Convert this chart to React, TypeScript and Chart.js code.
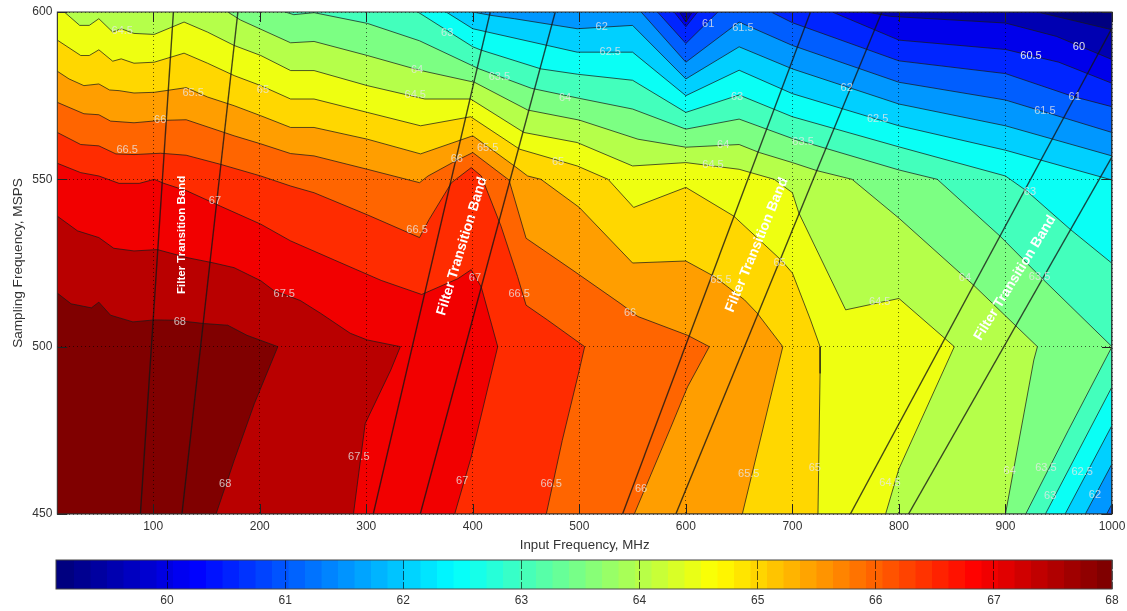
import React, { useEffect, useRef } from "react";
import { Chart, registerables } from "chart.js";

Chart.register(...registerables);

const FONT = "'Liberation Sans', Arial, sans-serif";

const xTicks = [100, 200, 300, 400, 500, 600, 700, 800, 900, 1000];
const yTicks = [450, 500, 550, 600];
const colorTicks = [60, 61, 62, 63, 64, 65, 66, 67, 68];
const zMin = 59.06;
const zMax = 68;
const colormapSize = 64;

const c68 = [[10,516],[23,512.8],[42,511.6],[49,513.3],[60,509.4],[81,507.4],[101,508],[120,507.9],[148,506.9],[170,506.4],[188,503.4],[217,500],[195,483],[176,466],[159,450]];
const c675 = [[10,539],[29,534.6],[49,532.6],[63,529.4],[82,528.6],[104,529],[132,526.6],[157,525],[176,523.6],[201,519.7],[213,516.8],[238,513.8],[257,510],[285,504],[301,502],[332,500],[323,493],[299,477],[288,450]];
const c67 = [[10,554.8],[32,552],[49,551],[68,548.8],[87,548.8],[101,550],[110,548.8],[132,546.5],[163,542],[201,536.6],[229,531.6],[270,525.9],[314,519.8],[352,515.6],[386,520.3],[398.5,523],[408,517.8],[423.4,500],[398.5,467],[383,450]];
const c665 = [[10,564],[32,560.4],[49,560],[65,557.6],[82,557.4],[107,557.8],[131,557.2],[163,554.5],[201,551],[229,548],[251,546],[301,539.4],[350,532.6],[359,538],[380,549],[398.5,553.5],[408,551],[426.5,536],[442,521],[450,512.4],[470,508],[505,500],[500,493],[484,472],[469,450]];
const c66 = [[10,573],[35,569.6],[49,569.3],[60,567.4],[82,566.9],[107,567.6],[131,567.8],[176,563],[201,560.6],[229,557.7],[251,557],[301,553],[350,549],[358,551],[381,555],[400,558],[434,549.8],[450,532.4],[494,522.8],[539,512.8],[555,509],[601.6,503.4],[622,500],[601.6,488],[586,476],[551.6,450]];
const c655 = [[10,582.3],[21,580],[35,578],[49,578.5],[59,576.7],[68,576.5],[82,575.8],[101,576],[131,577.4],[151,574.6],[176,572],[201,569],[229,565.5],[251,565.5],[301,562],[351,557.6],[400,563],[439,554],[451.5,551],[464,550],[500,541.6],[550,525],[600,525.6],[626.5,521],[655,514],[667,510],[691,500],[653,450]];
const c65 = [[10,591.6],[32,587],[40,587],[49,588.7],[62,585.3],[70,586],[82,584.7],[101,585],[129,587.7],[151,584.7],[176,581],[201,578],[229,574],[251,574],[301,570],[351,566],[398,568.7],[444,559],[498,554],[527,550],[551,541.6],[600,547.6],[645,539],[689,526],[700,522],[717,508],[726,500],[726,492],[724,450]];
const c645 = [[16.6,600],[31,596],[40,596],[49,598],[62,594],[70,595],[82,593.6],[101,593.3],[129,597],[151,594],[176,590],[201,587],[229,582.5],[251,582.5],[301,578],[355,574],[398,574],[448,564],[498,561],[550,554],[600,555],[650,553],[683,550],[700,546],[706,540],[750,511],[800,514.4],[843,502.5],[852,500],[800,463.5],[787.5,450]];
const c64 = [[170,600],[182,597.6],[229,590.8],[251,591.2],[301,587],[350,582.6],[401.6,579],[451.6,570.7],[500,567.7],[555,562],[600,559.6],[650,560.4],[669,558],[700,555],[723,552.6],[756,550],[800,538.4],[870,518.4],[930,500],[926.6,496],[900,450]];
const c635 = [[224,600],[232,599.2],[251,599.8],[301,596.6],[350,591.4],[406,583],[455,577.2],[500,574.2],[550,571],[600,565],[650,568],[700,562.2],[800,552.8],[836,550],[895,533],[935.6,520],[1000,500],[959,475],[919,450]];
const c63 = [[348.4,600],[400,589.6],[408,588.6],[464,583],[498.4,581.4],[550,579.6],[600,570],[650,575.2],[700,568.7],[800,559.7],[900,551],[920,546.5],[961,535],[1000,524.9],[1000,488],[937.5,450]];
const c625 = [[375,600],[400,595],[470,590],[498,588],[550,588],[600,575],[650,582.6],[700,575.6],[800,566],[900,558.7],[1000,549.8],[1000,476.5],[956,450]];
const c62 = [[400,600],[417,599],[439,598],[498,595],[550,596],[600,580],[650,589.6],[700,583],[800,572.5],[900,566],[1000,557],[1000,465],[975,450]];
const c615 = [[558,600],[600,585],[650,597],[700,590],[800,579],[900,573.7],[1000,564],[1000,453],[995,450]];
const c61 = [[573.4,600],[600,590.6],[630,600],[680,600],[700,596.8],[800,585.4],[900,581.6],[964,574.7],[1000,571.7],[1000,450]];
const c605 = [[589,600],[600,595.6],[611,600],[737.5,600],[800,591.6],[900,588.8],[950,585],[1000,578.7],[1000,450]];
const c60 = [[594,600],[600,597],[606,600],[770,600],[792,598.7],[900,596.7],[948,592.7],[1000,585.8],[1000,450]];
const c595 = [[10,600],[930,600],[1000,594.7],[1000,450]];

const levels = [68, 67.5, 67, 66.5, 66, 65.5, 65, 64.5, 64, 63.5, 63, 62.5, 62, 61.5, 61, 60.5, 60, 59.5];
const contours = [c68, c675, c67, c665, c66, c655, c65, c645, c64, c635, c63, c625, c62, c615, c61, c605, c60, c595];
const plotFrame = [[10,600],[1000,600],[1000,450],[10,450]];

const filterLines = [
  [[119,600],[88,450]],
  [[179.5,600],[127,450]],
  [[416.4,600],[306.6,450]],
  [[477.4,600],[350.7,450]],
  [[717,600],[540.6,450]],
  [[784,600],[590.6,450]],
  [[1000,595.2],[754.4,450]],
  [[1000,556.7],[809,450]],
];

const labelText = ["64.5","65.5","66","66.5","67","67.5","68","68","67.5","67","66.5","66","65.5","65","64.5","64","63.5","63","62.5","62","66.5","66","65.5","67","66.5","66","65.5","64","64.5","63","63.5","65","64","62","62.5","61","61.5","63","64","64.5","62","62.5","63.5","60","60.5","61","61.5","63","64","63.5","64.5","65","65"];
const labelX = [71,137.5,106.6,75.6,158,223,125,167.6,293,390,473.5,558,659,721,791.6,904,938,942,972,984,347.7,385,414,402,443.5,547.6,633,347.7,346,376,425,480,486.6,521,529,621,653.6,648,635,625.5,751,780,710,969,924,965,937,923,862,932,782,688,203];
const labelY = [594.3,575.8,567.7,558.8,543.5,515.7,507.4,459,467,460,459,457.5,462,463.7,459.3,463,463.7,455.4,462.5,455.7,534.9,556,559.4,520.5,515.7,510,520,582.7,575.2,593.7,580.6,555.2,574.3,595.5,588,596.4,595.2,574.6,560.3,554.3,577.3,568,561.2,589.5,586.9,574.6,570.4,546.2,520.5,520.8,513.3,525,576.7];

const bandTitle = "Filter Transition Band";
const bandX = [127.2, 390, 666.8, 909];
const bandY = [533.4, 530, 530.4, 520.5];
const bandAngle = [-90, -73, -67.5, -58.4];
const bandSize = [11.5, 14, 14, 14];

const clamp = (v: number) => Math.max(0, Math.min(1, v));
const jet = (t: number) => {
  const r = clamp(1.5 - Math.abs(4 * t - 3));
  const g = clamp(1.5 - Math.abs(4 * t - 2));
  const b = clamp(1.5 - Math.abs(4 * t - 1));
  return `rgb(${Math.round(r * 255)},${Math.round(g * 255)},${Math.round(b * 255)})`;
};
const colorOf = (z: number) => jet((z - zMin) / (zMax - zMin));

const toPoints = (arr: number[][]) => arr.map(([x, y]) => ({ x, y }));

const closeRegion = (pts: number[][]) => {
  const last = pts[pts.length - 1];
  const first = pts[0];
  const out = [...pts];
  if (!(last[0] === 10 && last[1] === 450)) out.push([10, 450]);
  if (first[0] !== 10) out.push([10, 600]);
  return out;
};

const frameAndLabels = {
  id: "frameAndLabels",
  afterDatasetsDraw(chart: any) {
    const { ctx, scales } = chart;
    ctx.save();
    ctx.beginPath();
    ctx.rect(chart.chartArea.left, chart.chartArea.top, chart.chartArea.width, chart.chartArea.height);
    ctx.clip();
    ctx.font = `11px ${FONT}`;
    ctx.textAlign = "center";
    ctx.textBaseline = "middle";
    labelText.forEach((t, i) => {
      ctx.fillStyle = labelY[i] > 580 && labelX[i] > 900 ? "rgba(235,235,235,0.95)" : "rgba(232,232,232,0.78)";
      ctx.fillText(t, scales.x.getPixelForValue(labelX[i]), scales.y.getPixelForValue(labelY[i]));
    });
    ctx.fillStyle = "#fff";
    bandX.forEach((x, i) => {
      ctx.save();
      ctx.translate(scales.x.getPixelForValue(x), scales.y.getPixelForValue(bandY[i]));
      ctx.rotate((bandAngle[i] * Math.PI) / 180);
      ctx.font = `bold ${bandSize[i]}px ${FONT}`;
      ctx.fillText(bandTitle, 0, 0);
      ctx.restore();
    });
    ctx.restore();
  },
  afterDraw(chart: any) {
    const { ctx, chartArea: a, scales } = chart;
    ctx.save();
    ctx.strokeStyle = "#222";
    ctx.lineWidth = 1;
    ctx.beginPath();
    xTicks.forEach((v) => {
      const p = Math.round(scales.x.getPixelForValue(v)) + 0.5;
      ctx.moveTo(p, a.bottom);
      ctx.lineTo(p, a.bottom - 10);
      ctx.moveTo(p, a.top);
      ctx.lineTo(p, a.top + 10);
    });
    yTicks.forEach((v) => {
      const p = Math.round(scales.y.getPixelForValue(v)) + 0.5;
      ctx.moveTo(a.left, p);
      ctx.lineTo(a.left + 10, p);
      ctx.moveTo(a.right, p);
      ctx.lineTo(a.right - 10, p);
    });
    ctx.stroke();
    ctx.strokeStyle = "#333";
    ctx.strokeRect(a.left, a.top, a.width, a.height);
    ctx.restore();
  },
};

const colorbarFrame = {
  id: "colorbarFrame",
  afterDraw(chart: any) {
    const { ctx, chartArea: a } = chart;
    ctx.save();
    ctx.strokeStyle = "#444";
    ctx.lineWidth = 1;
    ctx.strokeRect(a.left, a.top, a.width, a.height);
    ctx.restore();
  },
};

export default function App() {
  const mainRef = useRef<HTMLCanvasElement>(null);
  const barRef = useRef<HTMLCanvasElement>(null);

  useEffect(() => {
    const lineDatasets = filterLines.map((l) => ({
      data: toPoints(l),
      showLine: true,
      pointRadius: 0,
      borderColor: "rgba(20,20,20,0.78)",
      borderWidth: 1.4,
      fill: false,
    }));
    const regionDatasets = levels.map((lev, i) => ({
      data: toPoints(closeRegion(contours[i])),
      showLine: true,
      pointRadius: 0,
      borderColor: "rgba(25,25,25,0.72)",
      borderWidth: 1,
      backgroundColor: colorOf(lev),
      fill: "shape",
    }));
    const base = {
      data: toPoints(plotFrame),
      showLine: true,
      pointRadius: 0,
      borderWidth: 0,
      backgroundColor: colorOf(zMin),
      fill: "shape",
    };

    const main = new Chart(mainRef.current!, {
      type: "scatter",
      data: { datasets: [...lineDatasets, ...regionDatasets, base] as any },
      plugins: [frameAndLabels],
      options: {
        animation: false,
        responsive: false,
        layout: { padding: { left: 10, right: 15, top: 12, bottom: 58 } },
        plugins: { legend: { display: false }, tooltip: { enabled: false } },
        scales: {
          x: {
            type: "linear",
            min: 10,
            max: 1000,
            afterBuildTicks: (s: any) => { s.ticks = xTicks.map((value) => ({ value })); },
            afterFit: (s: any) => { s.height = 39; s.paddingLeft = 0; s.paddingRight = 0; },
            grid: { z: 1, color: "rgba(0,0,0,0.6)", lineWidth: 1, drawTicks: false },
            border: { display: false, dash: [1, 3] },
            ticks: { font: { family: FONT, size: 12 }, color: "#333", padding: 5, maxRotation: 0, autoSkip: false, callback: (v: any) => String(v) },
            title: { display: true, text: "Input Frequency, MHz", font: { family: FONT, size: 13.3 }, color: "#333", padding: { top: 0, bottom: 0 } },
          },
          y: {
            type: "linear",
            min: 450,
            max: 600,
            afterBuildTicks: (s: any) => { s.ticks = yTicks.map((value) => ({ value })); },
            afterFit: (s: any) => { s.width = 47.3; s.paddingTop = 0; s.paddingBottom = 0; },
            grid: { z: 1, color: "rgba(0,0,0,0.6)", lineWidth: 1, drawTicks: false },
            border: { display: false, dash: [1, 3] },
            ticks: { font: { family: FONT, size: 12 }, color: "#333", padding: 5, autoSkip: false },
            title: { display: true, text: "Sampling Frequency, MSPS", font: { family: FONT, size: 13.6 }, color: "#333", padding: { top: 0, bottom: 0 } },
          },
        },
      } as any,
    });

    const bins = Array.from({ length: colormapSize }, (_, i) => i);
    const step = (zMax - zMin) / colormapSize;
    const bar = new Chart(barRef.current!, {
      type: "bar",
      data: {
        labels: [""],
        datasets: bins.map((i) => ({
          data: [[zMin + i * step, Math.min(zMax, zMin + (i + 1) * step + 0.01)]],
          backgroundColor: jet(i / (colormapSize - 1)),
          borderWidth: 0,
          barPercentage: 1,
          categoryPercentage: 1,
          grouped: false,
        })) as any,
      },
      plugins: [colorbarFrame],
      options: {
        animation: false,
        responsive: false,
        indexAxis: "y",
        layout: { padding: { left: 56, right: 15, top: 10, bottom: 0 } },
        plugins: { legend: { display: false }, tooltip: { enabled: false } },
        scales: {
          x: {
            type: "linear",
            min: zMin,
            max: zMax,
            afterBuildTicks: (s: any) => { s.ticks = colorTicks.map((value) => ({ value })); },
            afterFit: (s: any) => { s.height = 22; s.paddingLeft = 0; s.paddingRight = 0; },
            grid: { z: 1, color: "rgba(0,0,0,0.6)", lineWidth: 1, drawTicks: false },
            border: { display: false, dash: [9, 2] },
            ticks: { font: { family: FONT, size: 12 }, color: "#333", padding: 4, maxRotation: 0, autoSkip: false },
          },
          y: { display: false },
        },
      } as any,
    });

    return () => {
      main.destroy();
      bar.destroy();
    };
  }, []);

  return (
    <div style={{ position: "absolute", left: 0, top: 0, width: 1127, height: 611, overflow: "hidden", background: "#fff" }}>
      <canvas ref={mainRef} width={1127} height={611} style={{ position: "absolute", left: 0, top: 0 }} />
      <canvas ref={barRef} width={1127} height={61} style={{ position: "absolute", left: 0, top: 550 }} />
    </div>
  );
}
